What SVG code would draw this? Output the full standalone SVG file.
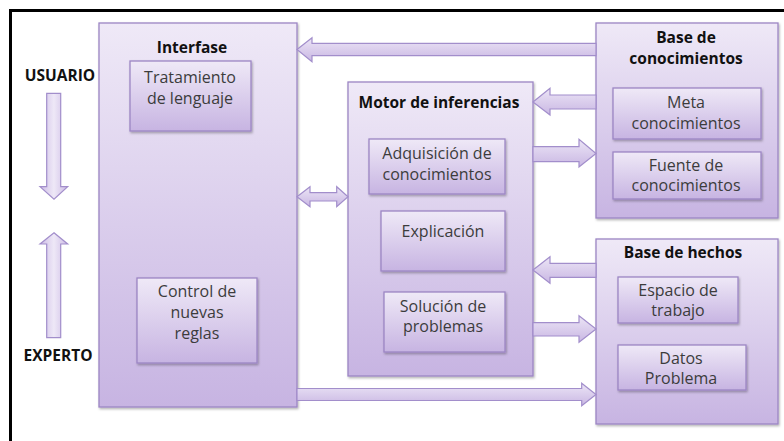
<svg xmlns="http://www.w3.org/2000/svg" width="784" height="441" viewBox="0 0 784 441">
<defs>
<linearGradient id="gBox" x1="0" y1="0" x2="0" y2="1">
<stop offset="0" stop-color="#efe9f7"/>
<stop offset="1" stop-color="#c7b4e2"/>
</linearGradient>
<linearGradient id="gArrV" x1="0" y1="0" x2="0" y2="1">
<stop offset="0" stop-color="#ece5f6"/>
<stop offset="1" stop-color="#c9b7e3"/>
</linearGradient>
<linearGradient id="gArrH" x1="0" y1="0" x2="1" y2="0">
<stop offset="0" stop-color="#cdbce5"/>
<stop offset="0.5" stop-color="#eee8f7"/>
<stop offset="1" stop-color="#cdbce5"/>
</linearGradient>
<filter id="sh" x="-10%" y="-10%" width="120%" height="120%">
<feDropShadow dx="1" dy="1.5" stdDeviation="1.2" flood-color="#000" flood-opacity="0.3"/>
</filter>
</defs>
<style>
.box{fill:url(#gBox);stroke:#9c86c4;stroke-width:1.3;filter:url(#sh)}
.arr{fill:url(#gArrV);stroke:#a28ecb;stroke-width:1.2}
.arrv{fill:url(#gArrH);stroke:#a28ecb;stroke-width:1.2}
.t{font-family:"Open Sans","Liberation Sans",sans-serif;font-size:16px;fill:#3c3c3c;text-anchor:middle}
.b{font-family:"Open Sans","Liberation Sans",sans-serif;font-size:15.5px;font-weight:bold;fill:#111;text-anchor:middle}
</style>
<rect width="784" height="441" fill="#fff"/>
<path d="M10.5 441 V10.5 H784" fill="none" stroke="#000" stroke-width="3"/>

<g id="usuario"><text class="b" x="60" y="81">USUARIO</text></g>
<g id="experto"><text class="b" x="58" y="361">EXPERTO</text></g>

<g id="interfase">
<rect class="box" x="99" y="23" width="198" height="384"/>
<text class="b" x="192" y="53">Interfase</text>
</g>
<g id="tratamiento">
<rect class="box" x="130" y="61" width="121" height="70"/>
<text class="t" x="190" y="83">Tratamiento</text>
<text class="t" x="190" y="104">de lenguaje</text>
</g>
<g id="control">
<rect class="box" x="137" y="278" width="120" height="85"/>
<text class="t" x="197" y="297">Control de</text>
<text class="t" x="197" y="318">nuevas</text>
<text class="t" x="197" y="339">reglas</text>
</g>

<g id="motor">
<rect class="box" x="348" y="82" width="185" height="294"/>
<text class="b" x="439" y="108">Motor de inferencias</text>
</g>
<g id="adquisicion">
<rect class="box" x="369" y="139" width="136" height="55"/>
<text class="t" x="437" y="159">Adquisición de</text>
<text class="t" x="437" y="180">conocimientos</text>
</g>
<g id="explicacion">
<rect class="box" x="381" y="211" width="124" height="60"/>
<text class="t" x="443" y="237">Explicación</text>
</g>
<g id="solucion">
<rect class="box" x="384" y="292" width="121" height="60"/>
<text class="t" x="443" y="312">Solución de</text>
<text class="t" x="443" y="332">problemas</text>
</g>

<g id="base-conocimientos">
<rect class="box" x="596" y="23" width="182" height="195"/>
<text class="b" x="686" y="43">Base de</text>
<text class="b" x="686" y="64">conocimientos</text>
</g>
<g id="meta">
<rect class="box" x="613" y="88" width="148" height="51"/>
<text class="t" x="686" y="108">Meta</text>
<text class="t" x="686" y="129">conocimientos</text>
</g>
<g id="fuente">
<rect class="box" x="613" y="152" width="148" height="47"/>
<text class="t" x="686" y="171">Fuente de</text>
<text class="t" x="686" y="191">conocimientos</text>
</g>

<g id="base-hechos">
<rect class="box" x="596" y="239" width="182" height="185"/>
<text class="b" x="683" y="258">Base de hechos</text>
</g>
<g id="espacio">
<rect class="box" x="618" y="277" width="120" height="46"/>
<text class="t" x="678" y="296">Espacio de</text>
<text class="t" x="678" y="316">trabajo</text>
</g>
<g id="datos">
<rect class="box" x="618" y="345" width="128" height="45"/>
<text class="t" x="681" y="364">Datos</text>
<text class="t" x="681" y="384">Problema</text>
</g>

<g id="connectors">
<polygon class="arr" points="297,49.5 312,37.7 312,43.3 596,43.3 596,55.7 312,55.7 312,61.7"/>
<polygon class="arr" points="533,102 550,88.3 550,95 596,95 596,109 550,109 550,115"/>
<polygon class="arr" points="533,146.7 579,146.7 579,139.3 596,153.5 579,167 579,161.7 533,161.7"/>
<polygon class="arr" points="297,196.7 310,186.7 310,192.7 336.7,192.7 336.7,186.7 348,196.7 336.7,206.7 336.7,201 310,201 310,206.7"/>
<polygon class="arr" points="533,270 550,256.7 550,263.3 596,263.3 596,277.3 550,277.3 550,283.3"/>
<polygon class="arr" points="533,322.7 579,322.7 579,315.7 596,329 579,342.3 579,336 533,336"/>
<polygon class="arr" points="297,388.5 581.7,388.5 581.7,383.3 596,394.5 581.7,405.7 581.7,400.5 297,400.5"/>
<polygon class="arrv" points="46.7,93.3 60.7,93.3 60.7,186.7 67.7,186.7 54,199.3 40,186.7 46.7,186.7"/>
<polygon class="arrv" points="54,232.7 67.7,244 60.7,244 60.7,337.7 46.7,337.7 46.7,244 40,244"/>
</g>
</svg>
